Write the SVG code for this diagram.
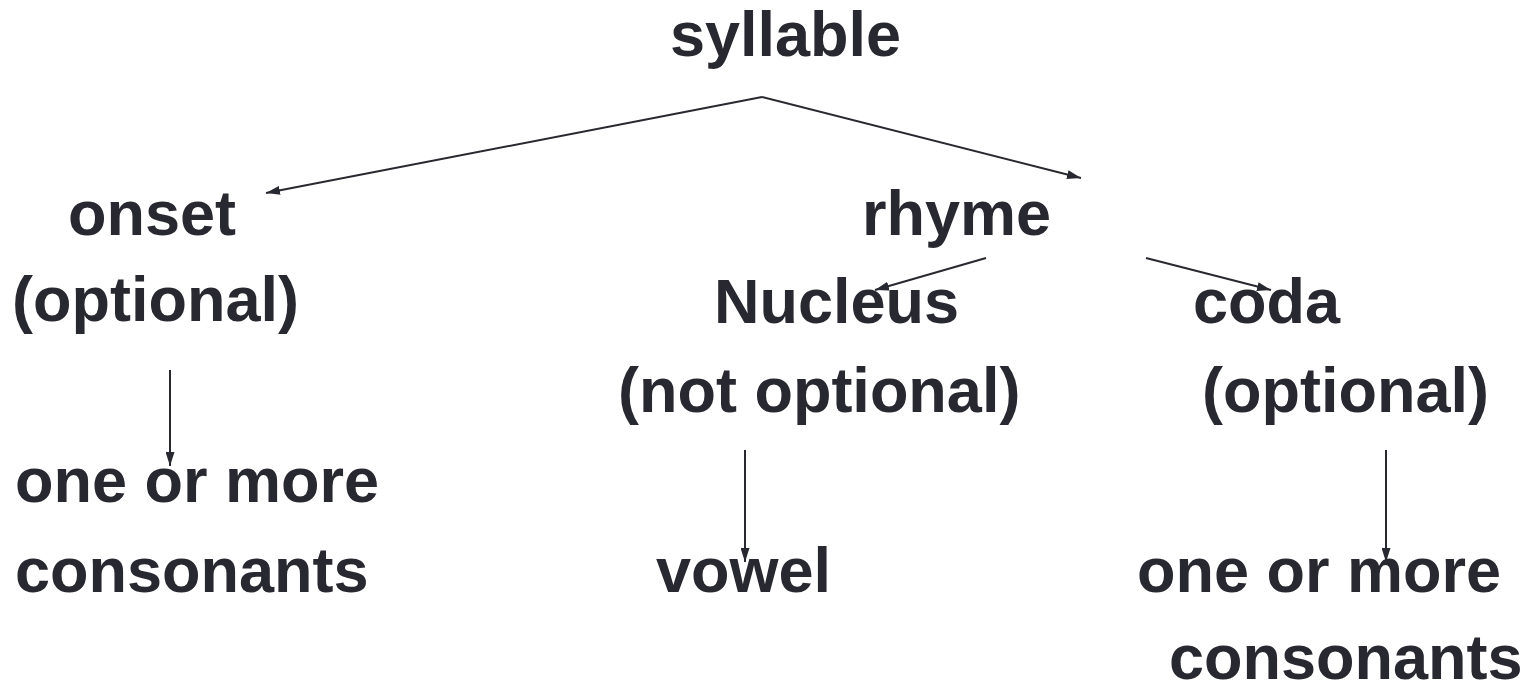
<svg xmlns="http://www.w3.org/2000/svg" width="1529" height="687" viewBox="0 0 1529 687">
<defs>
<style>
text{font-family:"Liberation Sans",Arial,sans-serif;font-weight:bold;font-size:63px;fill:#282830}
.c line{stroke:#282830;stroke-width:2;fill:none;marker-end:url(#ah)}
</style>
<marker id="ah" viewBox="0 0 14 9" refX="14" refY="4.5" markerWidth="14" markerHeight="9" markerUnits="userSpaceOnUse" orient="auto">
<path d="M0,0 L14,4.5 L0,9 Z" fill="#282830"/>
</marker>
</defs>
<rect width="1529" height="687" fill="#fff"/>
<g id="syllable"><text x="670" y="56">syllable</text></g>
<g id="onset"><text x="68" y="235">onset</text><text x="12" y="321">(optional)</text></g>
<g id="rhyme"><text x="862" y="235">rhyme</text></g>
<g id="nucleus"><text x="714" y="323">Nucleus</text><text x="618" y="412">(not optional)</text></g>
<g id="coda"><text x="1193" y="323">coda</text><text x="1202" y="412">(optional)</text></g>
<g id="onset-consonants"><text x="15" y="502">one or more</text><text x="15" y="592">consonants</text></g>
<g id="vowel"><text x="656" y="592">vowel</text></g>
<g id="coda-consonants"><text x="1137" y="592">one or more</text><text x="1169" y="679">consonants</text></g>
<g class="c" id="connectors">
<line x1="762" y1="97" x2="266" y2="193"/>
<line x1="762" y1="97" x2="1081" y2="178"/>
<line x1="986" y1="258" x2="875" y2="290"/>
<line x1="1146" y1="258" x2="1271" y2="290"/>
<line x1="170" y1="370" x2="170" y2="466"/>
<line x1="745" y1="450" x2="745" y2="562"/>
<line x1="1386" y1="450" x2="1386" y2="562"/>
</g>
</svg>
